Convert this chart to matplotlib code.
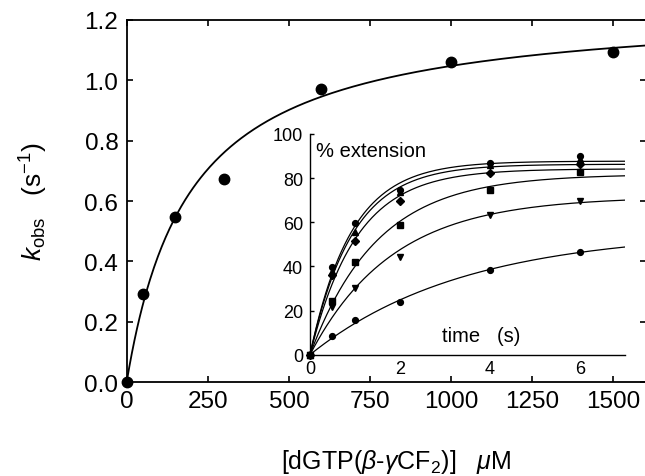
import numpy as np
import matplotlib
matplotlib.use("Agg")
import matplotlib.pyplot as plt

plt.rcParams["font.family"] = ["Liberation Sans", "DejaVu Sans"]
plt.rcParams["mathtext.fontset"] = "custom"
plt.rcParams["mathtext.rm"] = "Liberation Sans"
plt.rcParams["mathtext.it"] = "Liberation Sans:italic"
plt.rcParams["mathtext.bf"] = "Liberation Sans:bold"

# Main plot: observed rate vs nucleotide concentration
conc_uM = [0, 50, 150, 300, 600, 1000, 1500]
kobs = [0.0, 0.293, 0.546, 0.672, 0.971, 1.062, 1.093]
kmax_fit = 1.25   # s^-1, hyperbolic fit
kd_fit = 193.0    # uM

# Inset: time courses of primer extension
time_s = [0, 0.5, 1, 2, 4, 6]
ext_a = [0, 39.6, 59.7, 74.8, 86.9, 90.0]   # 1500 uM
ext_b = [0, 38.1, 55.5, 73.6, 86.0, 88.5]   # 1000 uM
ext_c = [0, 36.1, 51.3, 69.6, 82.3, 86.3]   # 600 uM
ext_d = [0, 24.5, 41.9, 58.8, 74.8, 82.7]   # 300 uM
ext_e = [0, 21.5, 30.2, 44.2, 63.5, 69.8]   # 150 uM
ext_f = [0, 8.3, 15.9, 23.8, 38.5, 46.7]    # 50 uM
amp_fit = [87.7, 86.3, 84.2, 81.8, 71.6, 56.0]
rate_fit = [1.093, 1.062, 0.971, 0.672, 0.546, 0.293]
markers = ["o", "^", "D", "s", "v", "o"]
marker_sizes = [4.2, 4.2, 3.6, 3.8, 4.2, 4.2]

fig = plt.figure(figsize=(6.45, 4.77), dpi=100)
ax = fig.add_axes([0.1964, 0.197, 0.8047, 0.759])

s = np.linspace(0, 1600, 400)
ax.plot(s, kmax_fit * s / (kd_fit + s), color="black", lw=1.3)
ax.plot(conc_uM, kobs, "o", color="black", ms=7.5, clip_on=False, zorder=5)

ax.set_xlim(0, 1600)
ax.set_ylim(0, 1.2)
ax.set_xticks(np.arange(0, 1501, 250))
ax.set_yticks(np.arange(0, 1.21, 0.2))
ax.yaxis.set_major_formatter(matplotlib.ticker.FormatStrFormatter("%.1f"))
ax.tick_params(direction="in", length=4.5, width=1.2, labelsize=17.5,
               top=True, right=True, pad=6)
for sp in ax.spines.values():
    sp.set_linewidth(1.3)

ax.set_xlabel(r"[dGTP($\beta$-$\gamma$CF$_2$)]   $\mu$M", fontsize=18)
ax.xaxis.set_label_coords(0.52, -0.18)
ax.set_ylabel(r"$k_{\mathrm{obs}}$   (s$^{\mathrm{-1}}$)", fontsize=19)
ax.yaxis.set_label_coords(-0.148, 0.5)

# Inset
ins = fig.add_axes([0.4806, 0.2543, 0.4884, 0.4627])
ins.patch.set_alpha(0)
series = [ext_a, ext_b, ext_c, ext_d, ext_e, ext_f]
t = np.linspace(0, 7, 300)
for vals, amp, k, m, msz in zip(series, amp_fit, rate_fit, markers, marker_sizes):
    ins.plot(t, amp * (1 - np.exp(-k * t)), color="black", lw=0.9)
    ins.plot(time_s, vals, m, color="black", ms=msz, clip_on=False, zorder=5)

ins.set_xlim(0, 7)
ins.set_ylim(0, 100)
ins.set_xticks([0, 2, 4, 6])
ins.set_yticks(np.arange(0, 101, 20))
ins.spines["top"].set_visible(False)
ins.spines["right"].set_visible(False)
for sp in ins.spines.values():
    sp.set_linewidth(1.0)
ins.tick_params(axis="y", direction="in", length=3, width=1.0, labelsize=13, pad=5)
ins.tick_params(axis="x", direction="in", length=0, labelsize=13, pad=4)
ins.text(0.02, 0.925, "% extension", transform=ins.transAxes, fontsize=14.5,
         ha="left", va="center")
ins.text(0.543, 0.085, "time   (s)", transform=ins.transAxes, fontsize=14.5,
         ha="center", va="center")

fig.savefig("out.png", dpi=100)
